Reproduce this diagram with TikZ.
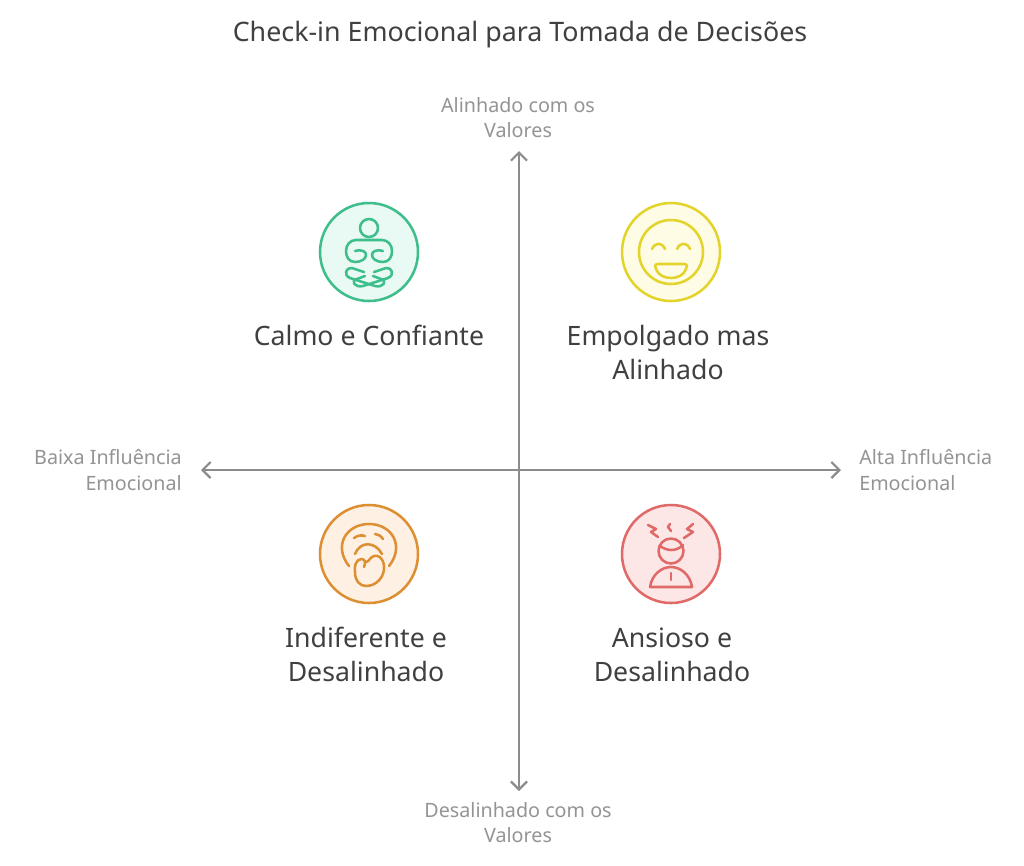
\documentclass[tikz,border=0pt]{standalone}
\usepackage{fontspec}
\setmainfont{Noto Sans}
\usetikzlibrary{arrows.meta}
\definecolor{inkdark}{HTML}{404040}
\definecolor{inkgray}{HTML}{949494}
\definecolor{axisgray}{HTML}{8C8C8C}
\definecolor{greenline}{HTML}{3DBE8B}
\definecolor{greenfill}{HTML}{E8FAF3}
\definecolor{yellowline}{HTML}{E3D32B}
\definecolor{yellowfill}{HTML}{FEFCE4}
\definecolor{orangeline}{HTML}{DD9033}
\definecolor{orangefill}{HTML}{FEF0E3}
\definecolor{redline}{HTML}{E06A68}
\definecolor{redfill}{HTML}{FCE6E6}
\tikzset{
  badge/.style={circle,draw=#1line,fill=#1fill,line width=1.9pt,minimum size=73.5pt,inner sep=0pt},
  icon/.style={every path/.append style={draw=#1line,line width=1.9pt,line cap=round,line join=round}},
  quadlabel/.style={text=inkdark,font=\fontsize{20}{25.5}\selectfont,align=center,text depth=0.25em},
  axislabel/.style={text=inkgray,font=\fontsize{14.8}{18.8}\selectfont},
}
\begin{document}
\begin{tikzpicture}[x=0.75pt,y=-0.75pt,>={Straight Barb[length=6pt,width=12pt]}]
        \useasboundingbox[fill=white] (0,0) rectangle (1024,865);
        % title
        \node[text=inkdark,font=\fontsize{20.1}{24}\selectfont] (title) at (520,35) {Check-in Emocional para Tomada de Decisões};
        % the axes
        \coordinate (west) at (201,470);
        \coordinate (east) at (841,470);
        \coordinate (north) at (519,151);
        \coordinate (south) at (519,791);
        \draw[<->,axisgray,line width=1.7pt] (west) -- (east);
        \draw[<->,axisgray,line width=1.7pt] (south) -- (north);
        % the axis labels
        \node[axislabel,align=center] (northlabel) at (518,118) {Alinhado com os\\Valores};
        \node[axislabel,align=center] (southlabel) at (518,823) {Desalinhado com os\\Valores};
        \node[axislabel,align=right,anchor=east,inner xsep=0pt] (westlabel) at (182,470) {Baixa Influência\\Emocional};
        \node[axislabel,align=left,anchor=west,inner xsep=0pt] (eastlabel) at (859,470) {Alta Influência\\Emocional};
        % the four badges
        \node[badge=green] (calm) at (369,252) {};
        \node[badge=yellow] (excited) at (671,252) {};
        \node[badge=orange] (indifferent) at (369,554) {};
        \node[badge=red] (anxious) at (671,554) {};
        % their labels
        \node[quadlabel] (calmlabel) at (369,337) {Calmo e Confiante};
        \node[quadlabel] (excitedlabel) at (668,354) {Empolgado mas\\Alinhado};
        \node[quadlabel] (indifferentlabel) at (366,656) {Indiferente e\\Desalinhado};
        \node[quadlabel] (anxiouslabel) at (672,656) {Ansioso e\\Desalinhado};
        % green icon
        \begin{scope}[shift={(calm.center)},icon=green]
            \path (0,-24) circle (9);
            \path (-14,-1) .. controls (-6,-3) and (-3,0) .. (-3,3) .. controls (-3,7) and (-8,10) .. (-14,10)
                .. controls (-20,10) and (-23,5) .. (-23,-1) .. controls (-23,-7) and (-19,-12) .. (-13,-12) -- (13,-12)
                .. controls (19,-12) and (23,-7) .. (23,-1) .. controls (23,5) and (20,10) .. (14,10)
                .. controls (8,10) and (3,7) .. (3,3) .. controls (3,0) and (6,-3) .. (14,-1);
            \path (-5,20) -- (-17,16) .. controls (-23,15) and (-26,23) .. (-19,26) -- (6,34)
                .. controls (14,36) and (19,29) .. (12,27) -- (4,24);
            \path (5,20) -- (17,16) .. controls (23,15) and (26,23) .. (19,26) -- (-6,34)
                .. controls (-14,36) and (-19,29) .. (-12,27) -- (-4,24);
        \end{scope}
        % yellow icon
        \begin{scope}[shift={(excited.center)},icon=yellow]
            \path (0,0) circle (32);
            \path (-19,-3) .. controls (-16,-10) and (-9,-10) .. (-6,-3);
            \path (6,-3) .. controls (9,-10) and (16,-10) .. (19,-3);
            \path (-13,12) -- (13,12) .. controls (17,12) and (16,15) .. (15,17)
                .. controls (11,29) and (-11,29) .. (-15,17) .. controls (-16,15) and (-17,12) .. (-13,12) -- cycle;
        \end{scope}
        % orange icon
        \begin{scope}[shift={(indifferent.center)},icon=orange]
            \path (-20,12) .. controls (-36,-8) and (-23,-30) .. (0,-30) .. controls (23,-30) and (36,-8) .. (20,12);
            \path (-15,-16) .. controls (-11,-19) and (-7,-19) .. (-4,-18);
            \path (6,-20) .. controls (9,-20) and (12,-18) .. (14,-15);
            \path (-14,0) .. controls (-9,-13) and (6,-13) .. (13,0);
            \path (-5,13) .. controls (-3,8) and (-4,5) .. (-8,5) .. controls (-13,6) and (-15,12) .. (-14,18)
                .. controls (-14,27) and (-9,32) .. (-3,32) .. controls (8,32) and (16,22) .. (15,12)
                .. controls (14,3) and (9,1) .. (5,2) .. controls (1,3) and (0,8) .. (-3,8);
        \end{scope}
        % red icon
        \begin{scope}[shift={(anxious.center)},icon=red]
            \path (0,-3) circle (12.5);
            \path (-11,-8) .. controls (-4,-3) and (5,-2) .. (12,-9);
            \path (-21,33) .. controls (-19,20) and (-9,13) .. (0,13) .. controls (9,13) and (19,20) .. (21,33) -- cycle;
            \path (0,19) -- (0,26);
            \path (-23,-29) -- (-15,-25) -- (-20,-22) -- (-13,-17);
            \path (-1,-30) -- (-3,-27) -- (0,-23);
            \path (22,-30) -- (16,-25) -- (22,-22) -- (13,-16);
        \end{scope}
\end{tikzpicture}
\end{document}
